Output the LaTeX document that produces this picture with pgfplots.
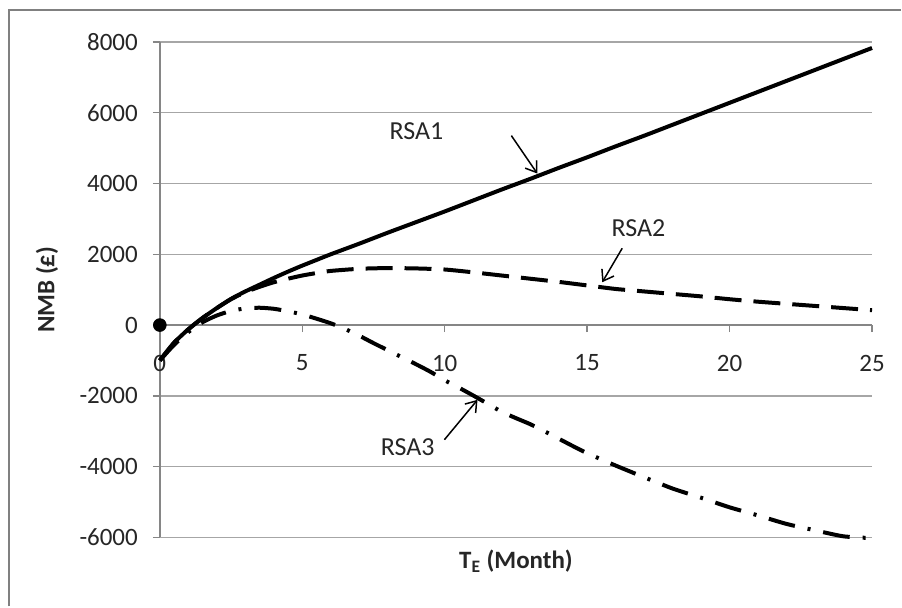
\documentclass[border=0pt]{standalone}
\usepackage{pgfplots}
\pgfplotsset{compat=1.18}
\usepackage{pgfplotstable}
\usepackage{fontspec}
\setmainfont{Carlito}
\usetikzlibrary{arrows.meta}

\definecolor{axisgray}{RGB}{134,134,134}
\definecolor{gridgray}{RGB}{166,166,166}
\definecolor{framegray}{RGB}{128,128,128}

% Net monetary benefit against time (months) for the three scenarios
\pgfplotstableread{
x y
0 -1000
0.5 -500
1 -120
1.5 200
2 480
2.5 740
3 950
3.5 1140
4 1330
4.5 1510
5 1680
5.5 1840
6 2000
7 2300
8 2610
9 2910
10 3210
11 3520
12 3830
13 4130
14 4440
15 4740
16 5050
17 5350
18 5660
19 5970
20 6280
21 6590
22 6900
23 7210
24 7520
25 7830
}\rsaone

\pgfplotstableread{
x y
0 -1000
0.5 -500
1 -120
1.5 200
2 480
2.5 730
3 930
3.5 1080
4 1210
4.5 1310
5 1400
5.5 1470
6 1530
7 1590
8 1610
9 1600
10 1570
11 1490
12 1400
13 1310
14 1220
15 1120
16 1020
17 950
18 880
19 810
20 730
21 660
22 600
23 540
24 480
25 420
}\rsatwo

\pgfplotstableread{
x y
0 -1000
0.5 -560
1 -200
1.5 80
2 270
2.5 400
3 470
3.5 490
4 460
4.5 390
5 300
5.5 180
6 50
6.5 -110
7 -300
7.5 -510
8 -710
8.5 -910
9 -1110
9.5 -1320
10 -1560
10.5 -1770
11 -1990
11.5 -2220
12 -2450
12.5 -2630
13 -2800
13.5 -3000
14 -3210
14.5 -3420
15 -3620
16 -3970
17 -4300
18 -4620
19 -4880
20 -5150
21 -5380
22 -5620
23 -5800
24 -5970
25 -6020
}\rsathree

\begin{document}
\begin{tikzpicture}
\begin{axis}[
  scale only axis,
  width=356.5pt, height=248pt,
  xmin=0, xmax=25, ymin=-6000, ymax=8000,
  clip=false,
  axis x line*=middle, axis y line*=left,
  axis line style={draw=axisgray, line width=0.75pt},
  xtick={0,5,10,15,20,25},
  xticklabels={0,5,10,15,20,25},
  ytick={-6000,-4000,-2000,0,2000,4000,6000,8000},
  yticklabels={-6000,-4000,-2000,0,2000,4000,6000,8000},
  hide obscured x ticks=false, hide obscured y ticks=false,
  tick align=outside, major tick length=3.5pt,
  tick style={draw=axisgray, line width=0.75pt},
  ymajorgrids,
  grid style={draw=gridgray, line width=0.75pt},
  ticklabel style={font=\fontsize{12.5}{15}\selectfont, text=black!85},
  xticklabel style={anchor=center, yshift=-15.5pt},
  yticklabel style={anchor=east, xshift=-4pt},
  xlabel={T\textsubscript{E} (Month)},
  ylabel={NMB (£)},
  every axis x label/.style={at={([yshift=-12pt]axis description cs:0.5,0)}, anchor=center},
  every axis y label/.style={at={([xshift=-56.5pt]axis description cs:0,0.5)}, anchor=center, rotate=90},
  label style={font=\fontsize{12.5}{15}\selectfont\bfseries, text=black!85},
]
\addplot[only marks, mark=*, mark size=3.2pt, black] coordinates {(0,0)};
\addplot[black, line width=2pt, smooth, tension=0.4] table {\rsaone};
\addplot[black, line width=2pt, smooth, tension=0.4, line cap=butt,
  dash pattern=on 13.5pt off 6pt] table {\rsatwo};
\addplot[black, line width=2pt, smooth, tension=0.4, line cap=butt,
  dash pattern=on 13.5pt off 6.5pt on 1.5pt off 6.5pt] table {\rsathree};

\node[font=\fontsize{13}{15}\selectfont, text=black!85] at (axis cs:9.01,5465) {RSA1};
\draw[-{Straight Barb[length=5pt,width=7pt]}, line width=0.75pt]
  (axis cs:12.34,5352) -- (axis cs:13.25,4282);
\node[font=\fontsize{13}{15}\selectfont, text=black!85] at (axis cs:16.8,2732) {RSA2};
\draw[-{Straight Barb[length=5pt,width=7pt]}, line width=0.75pt]
  (axis cs:16.23,2169) -- (axis cs:15.53,1211);
\node[font=\fontsize{13}{15}\selectfont, text=black!85] at (axis cs:8.70,-3437) {RSA3};
\draw[-{Straight Barb[length=5pt,width=7pt]}, line width=0.75pt]
  (axis cs:9.99,-3239) -- (axis cs:11.15,-2113);
\end{axis}
\pgfresetboundingbox
\path (-80pt,-34.5pt) rectangle (371pt,269pt);
\draw[framegray, line width=1pt] (-75.5pt,-34.5pt) -- (-75.5pt,264pt) -- (371pt,264pt);
\end{tikzpicture}
\end{document}
